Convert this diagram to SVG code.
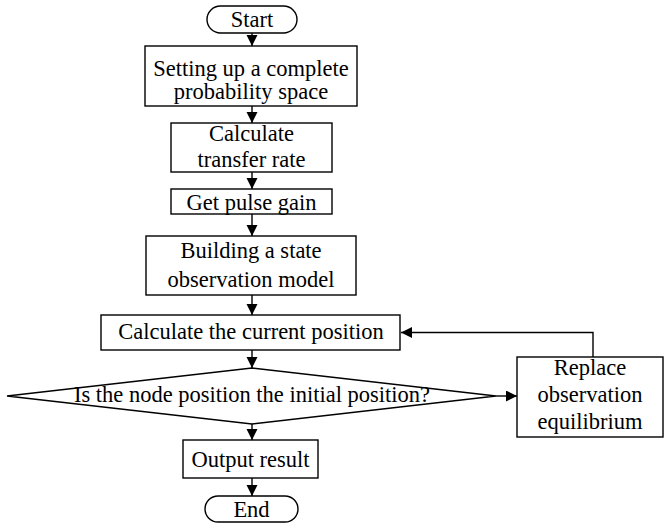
<svg xmlns="http://www.w3.org/2000/svg" width="664" height="525" viewBox="0 0 664 525">
<defs>
<style>
.n{fill:#fff;stroke:#000;stroke-width:1.4}
.t{font-family:"Liberation Serif","Times New Roman",serif;font-size:22.5px;fill:#000;text-anchor:middle}
.c{fill:none;stroke:#000;stroke-width:1.4}
</style>
<marker id="ah" markerUnits="userSpaceOnUse" markerWidth="12" markerHeight="12" refX="11" refY="5.5" orient="auto">
<path d="M0,0 L11,5.5 L0,11 z" fill="#000"/>
</marker>
</defs>
<rect width="664" height="525" fill="#fff"/>
<g id="connectors">
<line class="c" x1="252" y1="33" x2="252" y2="46" marker-end="url(#ah)"/>
<line class="c" x1="252" y1="106" x2="252" y2="123" marker-end="url(#ah)"/>
<line class="c" x1="252" y1="172" x2="252" y2="189" marker-end="url(#ah)"/>
<line class="c" x1="252" y1="214" x2="252" y2="236" marker-end="url(#ah)"/>
<line class="c" x1="252" y1="295" x2="252" y2="315" marker-end="url(#ah)"/>
<line class="c" x1="252" y1="350" x2="252" y2="368" marker-end="url(#ah)"/>
<line class="c" x1="252" y1="424" x2="252" y2="440" marker-end="url(#ah)"/>
<line class="c" x1="252" y1="478" x2="252" y2="496" marker-end="url(#ah)"/>
<line class="c" x1="496" y1="396" x2="517" y2="396" marker-end="url(#ah)"/>
<polyline class="c" points="593,357 593,332.5 401,332.5" marker-end="url(#ah)"/>
</g>
<g id="start">
<rect class="n" x="207" y="6" width="90" height="27" rx="13.5"/>
<text class="t" x="252" y="27">Start</text>
</g>
<g id="setup">
<rect class="n" x="145" y="46" width="212" height="60"/>
<text class="t" x="251" y="76">Setting up a complete</text>
<text class="t" x="251" y="99">probability space</text>
</g>
<g id="transfer">
<rect class="n" x="171" y="123" width="161" height="49"/>
<text class="t" x="251.5" y="141">Calculate</text>
<text class="t" x="251.5" y="167">transfer rate</text>
</g>
<g id="pulse">
<rect class="n" x="171" y="189" width="161" height="25"/>
<text class="t" x="251.5" y="210">Get pulse gain</text>
</g>
<g id="model">
<rect class="n" x="146" y="236" width="210" height="59"/>
<text class="t" x="251" y="258">Building a state</text>
<text class="t" x="251" y="287">observation model</text>
</g>
<g id="current">
<rect class="n" x="101" y="315" width="299" height="35"/>
<text class="t" x="251" y="339">Calculate the current position</text>
</g>
<g id="decision">
<polygon class="n" points="252,368 496,396 252,424 7,396"/>
<text class="t" x="252" y="402">Is the node position the initial position?</text>
</g>
<g id="replace">
<rect class="n" x="517" y="357" width="146" height="80"/>
<text class="t" x="590" y="375">Replace</text>
<text class="t" x="590" y="402">observation</text>
<text class="t" x="590" y="429">equilibrium</text>
</g>
<g id="output">
<rect class="n" x="183" y="440" width="135" height="38"/>
<text class="t" x="250.5" y="467">Output result</text>
</g>
<g id="end">
<rect class="n" x="205" y="496" width="93" height="26" rx="13"/>
<text class="t" x="251.5" y="517">End</text>
</g>
</svg>
